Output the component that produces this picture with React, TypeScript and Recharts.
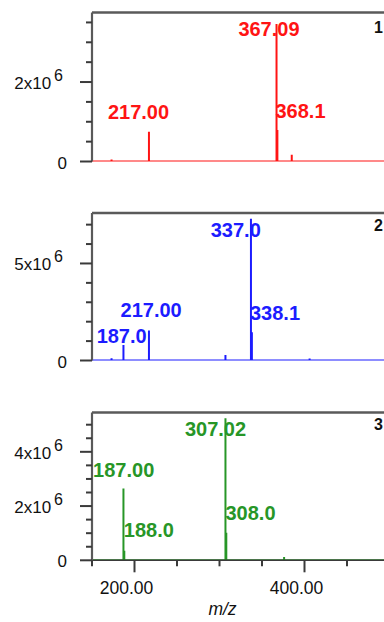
import { LineChart, Line, XAxis, YAxis, ReferenceDot, ReferenceLine } from "recharts";

const FONT = '"Liberation Sans", Arial, sans-serif';
const MZ_RANGE: [number, number] = [150, 550];
const MZ_TICKS = [150, 200, 250, 300, 350, 400, 450, 500, 550];
const MZ_LABELED = [200, 400];

// panel 1 (red)
const redPeakMz = [173, 217.0, 367.09, 368.1, 385];
const redPeakIntensity = [0.05e6, 0.75e6, 3.46e6, 0.79e6, 0.17e6];
const redLabelText = ["217.00", "367.09", "368.1"];
const redLabelMz = [204.7, 358.2, 395.3];
const redLabelIntensity = [1.07e6, 3.17e6, 1.09e6];
const redTicks = [0, 0.5e6, 1e6, 1.5e6, 2e6, 2.5e6, 3e6, 3.5e6];
const redTickLabeled = [0, 2e6];
const redMax = 3.75e6;

// panel 2 (blue)
const bluePeakMz = [173, 187.0, 217.0, 307, 337.0, 338.1, 406];
const bluePeakIntensity = [0.12e6, 0.8e6, 1.55e6, 0.28e6, 7.3e6, 1.46e6, 0.1e6];
const blueLabelText = ["187.0", "217.00", "337.0", "338.1"];
const blueLabelMz = [184.9, 219.6, 319.1, 365.3];
const blueLabelIntensity = [0.89e6, 2.26e6, 6.38e6, 2.09e6];
const blueTicks = [0, 1e6, 2e6, 3e6, 4e6, 5e6, 6e6, 7e6];
const blueTickLabeled = [0, 5e6];
const blueMax = 7.6e6;

// panel 3 (green)
const greenPeakMz = [187.0, 188.0, 307.02, 308.0, 376];
const greenPeakIntensity = [2.65e6, 0.35e6, 5.24e6, 1.02e6, 0.12e6];
const greenLabelText = ["187.00", "307.02", "188.0", "308.0"];
const greenLabelMz = [187.3, 295.3, 216.9, 336.5];
const greenLabelIntensity = [3.08e6, 4.58e6, 0.85e6, 1.47e6];
const greenTicks = [0, 0.5e6, 1e6, 1.5e6, 2e6, 2.5e6, 3e6, 3.5e6, 4e6, 4.5e6, 5e6];
const greenTickLabeled = [0, 2e6, 4e6];
const greenMax = 5.45e6;

const panelTags = ["1", "2", "3"];
const panelTagMz = 481.8;
const panelTagIntensity = [3.23e6, 6.68e6, 4.8e6];

const RED = "#ff1414";
const BLUE = "#1c1cff";
const GREEN = "#279627";
const FRAME = "#5a5a5a";
const TICK = "#3a3a3a";

// stick spectrum: baseline with a vertical spike at each peak
function toSticks(mz: number[], intensity: number[]) {
  const pts = [{ mz: MZ_RANGE[0], v: 0 }];
  mz.forEach((m, i) => {
    pts.push({ mz: m, v: 0 }, { mz: m, v: intensity[i] }, { mz: m, v: 0 });
  });
  pts.push({ mz: MZ_RANGE[1], v: 0 });
  return pts;
}

function YTick({ x, y, payload, labeled }: any) {
  const v = payload.value;
  const major = labeled.includes(v);
  return (
    <g>
      <line x1={x - (major ? 12 : 6)} x2={x} y1={y} y2={y} stroke={TICK} strokeWidth={2} />
      {major ? (
        v === 0 ? (
          <text x={x - 25} y={y + 7} textAnchor="end" fontSize={17} fill="#111" fontFamily={FONT}>
            0
          </text>
        ) : (
          <text x={x - 29} y={y + 7} textAnchor="end" fontSize={17} fill="#111" fontFamily={FONT}>
            {`${v / 1e6}x10`}
            <tspan dx={3} dy={-8} fontSize={16}>
              6
            </tspan>
          </text>
        )
      ) : null}
    </g>
  );
}

function XTick({ x, y, payload }: any) {
  const major = MZ_LABELED.includes(payload.value);
  return (
    <g>
      <line x1={x} x2={x} y1={y} y2={y + (major ? 12 : 6)} stroke={TICK} strokeWidth={2} />
      {major ? (
        <text x={x - 8} y={y + 34} textAnchor="middle" fontSize={17.5} fill="#111" fontFamily={FONT}>
          {payload.value.toFixed(2)}
        </text>
      ) : null}
    </g>
  );
}

function PeakLabel({ cx = 0, cy = 0, text, color, anchor = "middle", size = 20 }: any) {
  return (
    <text x={cx} y={cy} textAnchor={anchor} fill={color} fontSize={size} fontWeight={700} fontFamily={FONT}>
      {text}
    </text>
  );
}

function Panel({
  mz,
  intensity,
  labelText,
  labelMz,
  labelIntensity,
  ticks,
  labeled,
  max,
  color,
  tag,
  tagIntensity,
  height,
  marginTop,
  marginBottom,
  showX,
}: any) {
  const data = toSticks(mz, intensity);
  return (
    <LineChart
      width={432}
      height={height}
      data={data}
      margin={{ top: marginTop, right: 0, bottom: showX ? 0 : marginBottom, left: 0 }}
    >
      <XAxis
        dataKey="mz"
        type="number"
        domain={MZ_RANGE}
        allowDataOverflow
        hide={!showX}
        ticks={MZ_TICKS}
        interval={0}
        height={marginBottom}
        tickSize={0}
        tickMargin={0}
        tick={<XTick />}
        axisLine={{ stroke: TICK, strokeWidth: 1.5 }}
        label={(p: any) => (
          <text
            x={p.viewBox.x + 130.5}
            y={p.viewBox.y + 54.5}
            textAnchor="middle"
            fontSize={17.5}
            fontStyle="italic"
            fill="#111"
            fontFamily={FONT}
          >
            m/z
          </text>
        )}
      />
      <YAxis
        type="number"
        domain={[0, max]}
        allowDataOverflow
        ticks={ticks}
        interval={0}
        width={92}
        tickSize={0}
        tickMargin={0}
        tick={<YTick labeled={labeled} />}
        axisLine={{ stroke: FRAME, strokeWidth: 2.2 }}
      />
      <ReferenceLine y={max} stroke={FRAME} strokeWidth={2.6} ifOverflow="visible" />
      <Line
        dataKey="v"
        type="linear"
        stroke={color}
        strokeWidth={2}
        dot={false}
        isAnimationActive={false}
      />
      {labelText.map((t: string, i: number) => (
        <ReferenceDot
          key={t}
          x={labelMz[i]}
          y={labelIntensity[i]}
          ifOverflow="visible"
          shape={(p: any) => <PeakLabel cx={p.cx} cy={p.cy} text={t} color={color} />}
        />
      ))}
      <ReferenceDot
        x={panelTagMz}
        y={tagIntensity}
        ifOverflow="visible"
        shape={(p: any) => <PeakLabel cx={p.cx} cy={p.cy} text={tag} color="#111" anchor="start" size={16} />}
      />
    </LineChart>
  );
}

export default function App() {
  return (
    <div
      style={{
        position: "fixed",
        left: 0,
        top: 0,
        width: 384,
        height: 622,
        overflow: "hidden",
        background: "#fff",
        fontFamily: FONT,
      }}
    >
      <div style={{ position: "absolute", left: 0, top: 0 }}>
        <Panel
          mz={redPeakMz}
          intensity={redPeakIntensity}
          labelText={redLabelText}
          labelMz={redLabelMz}
          labelIntensity={redLabelIntensity}
          ticks={redTicks}
          labeled={redTickLabeled}
          max={redMax}
          color={RED}
          tag={panelTags[0]}
          tagIntensity={panelTagIntensity[0]}
          height={200}
          marginTop={12.5}
          marginBottom={38.5}
          showX={false}
        />
      </div>
      <div style={{ position: "absolute", left: 0, top: 200 }}>
        <Panel
          mz={bluePeakMz}
          intensity={bluePeakIntensity}
          labelText={blueLabelText}
          labelMz={blueLabelMz}
          labelIntensity={blueLabelIntensity}
          ticks={blueTicks}
          labeled={blueTickLabeled}
          max={blueMax}
          color={BLUE}
          tag={panelTags[1]}
          tagIntensity={panelTagIntensity[1]}
          height={200}
          marginTop={13}
          marginBottom={39.5}
          showX={false}
        />
      </div>
      <div style={{ position: "absolute", left: 0, top: 400 }}>
        <Panel
          mz={greenPeakMz}
          intensity={greenPeakIntensity}
          labelText={greenLabelText}
          labelMz={greenLabelMz}
          labelIntensity={greenLabelIntensity}
          ticks={greenTicks}
          labeled={greenTickLabeled}
          max={greenMax}
          color={GREEN}
          tag={panelTags[2]}
          tagIntensity={panelTagIntensity[2]}
          height={222}
          marginTop={12.5}
          marginBottom={61.7}
          showX={true}
        />
      </div>
    </div>
  );
}
